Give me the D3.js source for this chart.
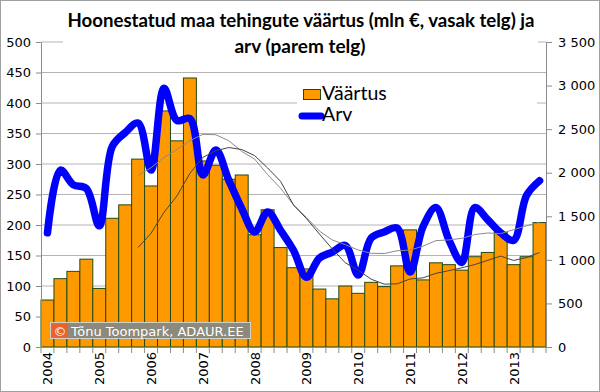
<!DOCTYPE html>
<html>
<head>
<meta charset="utf-8">
<script src="https://cdn.jsdelivr.net/npm/d3@7"></script>
<style>
  body { margin: 0; background: #fff; }
  svg { display: block; }
</style>
</head>
<body>
<div id="chart"></div>
<script>
// kvartalid 2004 I - 2013 III
const quarters = [
  "2004 I", "2004 II", "2004 III", "2004 IV",
  "2005 I", "2005 II", "2005 III", "2005 IV",
  "2006 I", "2006 II", "2006 III", "2006 IV",
  "2007 I", "2007 II", "2007 III", "2007 IV",
  "2008 I", "2008 II", "2008 III", "2008 IV",
  "2009 I", "2009 II", "2009 III", "2009 IV",
  "2010 I", "2010 II", "2010 III", "2010 IV",
  "2011 I", "2011 II", "2011 III", "2011 IV",
  "2012 I", "2012 II", "2012 III", "2012 IV",
  "2013 I", "2013 II", "2013 III"
];
const yearLabels = ["2004", "2005", "2006", "2007", "2008", "2009", "2010", "2011", "2012", "2013"];

// väärtus, mln € (vasak telg)
const vaartus = [
  77, 112, 124, 144, 96, 211, 233, 308, 264, 387,
  338, 441, 305, 298, 275, 282, 184, 225, 163, 130,
  128, 95, 79, 100, 88, 106, 99, 133, 192, 110,
  138, 135, 126, 148, 155, 188, 135, 148, 204
];
// tehingute arv (parem telg)
const arv = [
  1310, 2030, 1860, 1820, 1390, 2300, 2460, 2570, 2030, 2970,
  2600, 2620, 1975, 2260, 1915, 1590, 1320, 1550, 1340, 1110,
  800, 1020, 1090, 1165, 826, 1250, 1320, 1365, 860, 1380,
  1600, 1230, 970, 1600, 1460, 1310, 1225, 1740, 1908
];
const leftTicks = [0, 50, 100, 150, 200, 250, 300, 350, 400, 450, 500];
const rightTicks = [0, 500, 1000, 1500, 2000, 2500, 3000, 3500];
const maPeriod = 8; // libisev keskmine (trendijoon)

const W = 600, H = 392;
const svg = d3.select("#chart").append("svg")
  .attr("width", W)
  .attr("height", H);

const x = d3.scaleBand().domain(quarters).range([41, 546]).padding(0);
const yL = d3.scaleLinear().domain([0, 500]).range([347, 42]);
const yR = d3.scaleLinear().domain([0, 3500]).range([347, 42]);

const numFmt = d => d3.format(",")(d).replace(/,/g, " ");

// grid
svg.append("g")
  .selectAll("line")
  .data(leftTicks.filter(d => d > 0))
  .join("line")
  .attr("x1", 41).attr("x2", 546)
  .attr("y1", d => yL(d)).attr("y2", d => yL(d))
  .attr("stroke", "#b4b4b4")
  .attr("stroke-width", 1);

// bars
svg.append("g")
  .selectAll("rect")
  .data(vaartus)
  .join("rect")
  .attr("x", (d, i) => x(quarters[i]))
  .attr("y", d => yL(d))
  .attr("width", x.bandwidth())
  .attr("height", d => yL(0) - yL(d))
  .attr("fill", "#ff9900")
  .attr("stroke", "#234a10")
  .attr("stroke-width", 1);

// moving averages
const movingAvg = (arr, n) => arr.map((d, i) => i < n - 1 ? null : d3.mean(arr.slice(i - n + 1, i + 1)));
const cx = i => x(quarters[i]) + x.bandwidth() / 2;

// arv line
svg.append("path")
  .datum(arv)
  .attr("fill", "none")
  .attr("stroke", "#0000ff")
  .attr("stroke-width", 7.5)
  .attr("stroke-linecap", "round")
  .attr("stroke-linejoin", "round")
  .attr("d", d3.line()
    .x((d, i) => cx(i))
    .y(d => yR(d))
    .curve(d3.curveCatmullRom.alpha(0.5)));

const maLine = (scale) => d3.line()
  .defined(d => d != null)
  .x((d, i) => cx(i))
  .y(d => scale(d));

svg.append("path")
  .datum(movingAvg(arv, maPeriod))
  .attr("fill", "none")
  .attr("stroke", "#8a8a8a")
  .attr("stroke-width", 1)
  .attr("d", maLine(yR));

svg.append("path")
  .datum(movingAvg(vaartus, maPeriod))
  .attr("fill", "none")
  .attr("stroke", "#444")
  .attr("stroke-width", 1)
  .attr("d", maLine(yL));

// axes
const axisStyle = g => {
  g.select(".domain").attr("stroke", "#8c8c8c");
  g.selectAll(".tick line").attr("stroke", "#8c8c8c");
  g.selectAll("text")
    .attr("fill", "#000")
    .style("font-family", "'DejaVu Sans', Verdana, sans-serif")
    .style("font-size", "13px");
};

svg.append("g")
  .attr("transform", "translate(41,0)")
  .call(d3.axisLeft(yL).tickValues(leftTicks).tickSize(5).tickPadding(5).tickSizeOuter(0))
  .call(axisStyle);

svg.append("g")
  .attr("transform", "translate(546,0)")
  .call(d3.axisRight(yR).tickValues(rightTicks).tickFormat(numFmt).tickSize(6).tickPadding(6).tickSizeOuter(0))
  .call(axisStyle);

// category axis
const xa = svg.append("g");
xa.append("line")
  .attr("x1", 41).attr("x2", 546)
  .attr("y1", 347.5).attr("y2", 347.5)
  .attr("stroke", "#8c8c8c");
xa.selectAll("line.tk")
  .data(quarters.concat(["end"]))
  .join("line")
  .attr("class", "tk")
  .attr("x1", (d, i) => i < quarters.length ? x(d) : x.range()[1])
  .attr("x2", (d, i) => i < quarters.length ? x(d) : x.range()[1])
  .attr("y1", 347).attr("y2", 353)
  .attr("stroke", "#8c8c8c");
xa.selectAll("text")
  .data(yearLabels)
  .join("text")
  .attr("transform", d => `translate(${x(d + " I") + x.bandwidth() / 2 + 5},352) rotate(-90)`)
  .attr("text-anchor", "end")
  .style("font-family", "'DejaVu Sans', Verdana, sans-serif")
  .style("font-size", "13px")
  .text(d => d);

// title
svg.append("rect")
  .attr("x", 63).attr("y", 2).attr("width", 475).attr("height", 58)
  .attr("fill", "#fff");
const title = svg.append("text")
  .attr("text-anchor", "middle")
  .style("font-family", "Lato, 'Open Sans', sans-serif")
  .style("font-weight", "bold")
  .style("font-size", "19px");
title.append("tspan").attr("x", 301).attr("y", 27)
  .attr("textLength", 467).attr("lengthAdjust", "spacingAndGlyphs")
  .text("Hoonestatud maa tehingute väärtus (mln €, vasak telg) ja");
title.append("tspan").attr("x", 300).attr("y", 53)
  .text("arv (parem telg)");

// legend
const lg = svg.append("g");
lg.append("rect")
  .attr("x", 297).attr("y", 76).attr("width", 240).attr("height", 52)
  .attr("fill", "#fff");
lg.append("rect")
  .attr("x", 303.5).attr("y", 89.5).attr("width", 17).attr("height", 10)
  .attr("fill", "#ff9900").attr("stroke", "#234a10");
lg.append("line")
  .attr("x1", 302).attr("x2", 321).attr("y1", 116).attr("y2", 116)
  .attr("stroke", "#0000ff").attr("stroke-width", 7).attr("stroke-linecap", "round");
lg.selectAll("text")
  .data(["Väärtus", "Arv"])
  .join("text")
  .attr("x", 322)
  .attr("y", (d, i) => 100 + i * 21)
  .style("font-family", "Lato, 'Open Sans', sans-serif")
  .style("font-size", "19.5px")
  .text(d => d);

// copyright
const cp = svg.append("g");
cp.append("rect")
  .attr("x", 50.5).attr("y", 322.5).attr("width", 200).attr("height", 16)
  .attr("fill", "#8b8a7c").attr("stroke", "#d0d0c8");
cp.append("rect")
  .attr("x", 52).attr("y", 324).attr("width", 16).attr("height", 13)
  .attr("fill", "#e8622a");
cp.append("text")
  .attr("x", 60).attr("y", 335.5)
  .attr("text-anchor", "middle")
  .attr("fill", "#fff")
  .style("font-family", "'DejaVu Sans', sans-serif")
  .style("font-size", "13px")
  .text("©");
cp.append("text")
  .attr("x", 71).attr("y", 335.5)
  .attr("fill", "#fff")
  .style("font-family", "'DejaVu Sans', Verdana, sans-serif")
  .style("font-size", "13px")
  .text("Tõnu Toompark, ADAUR.EE");

// border
svg.append("rect")
  .attr("x", 0.5).attr("y", 0.5).attr("width", W - 1).attr("height", H - 1)
  .attr("fill", "none").attr("stroke", "#a0a0a0");
</script>
</body>
</html>
